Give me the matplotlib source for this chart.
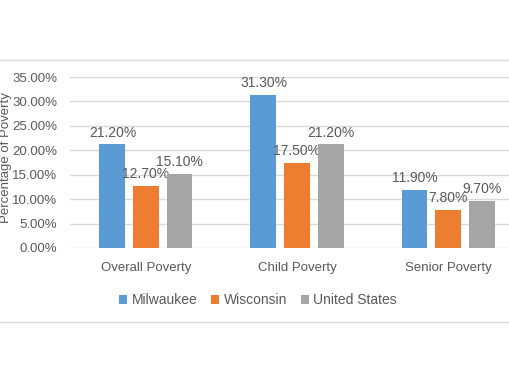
import matplotlib
matplotlib.use("Agg")
import matplotlib.pyplot as plt
from matplotlib.lines import Line2D
import numpy as np

plt.rcParams['font.family'] = ['Liberation Sans', 'DejaVu Sans']

# data
categories = ["Overall Poverty", "Child Poverty", "Senior Poverty"]
series_names = ["Milwaukee", "Wisconsin", "United States"]
milwaukee = [21.2, 31.3, 11.9]
wisconsin = [12.7, 17.5, 7.8]
united_states = [15.1, 21.2, 9.7]
y_ticks = [0, 5, 10, 15, 20, 25, 30, 35]

colors = ["#5B9BD5", "#ED7D31", "#A5A5A5"]
text_col = "#595959"
grid_col = "#D9D9D9"

W, H = 510, 382
fig = plt.figure(figsize=(W / 100, H / 100), dpi=100)
# plot area runs off the right edge like the cropped screenshot
ax = fig.add_axes([70 / W, 1 - 248 / H, 454 / W, 171 / H])

x = np.arange(len(categories))
width = 0.172
offset = 0.222
for i, (vals, name, c) in enumerate(zip([milwaukee, wisconsin, united_states], series_names, colors)):
    pos = x + (i - 1) * offset
    bars = ax.bar(pos, vals, width, color=c, label=name, zorder=3)
    for b, v in zip(bars, vals):
        ax.annotate(f"{v:.2f}%", (b.get_x() + b.get_width() / 2, v),
                    xytext=(0, 3.5), textcoords="offset points",
                    ha="center", va="bottom", fontsize=10, color=text_col)

ax.set_xlim(-0.503, 2.503)
ax.set_ylim(0, 35)
ax.set_yticks(y_ticks)
ax.set_yticklabels([f"{t:.2f}%" for t in y_ticks])
ax.set_xticks(x)
ax.set_xticklabels(categories)
ax.tick_params(axis="both", length=0, colors=text_col, labelsize=9.5)
ax.tick_params(axis="y", pad=9)
ax.tick_params(axis="x", pad=10)
ax.grid(axis="y", color=grid_col, linewidth=1, zorder=0)
for s in ax.spines.values():
    s.set_visible(False)

# y label hugs the left edge
fig.text(0.5 / W, 1 - 158 / H, "Percentage of Poverty", rotation=90,
         ha="left", va="center", fontsize=9.5, color=text_col)

fig.legend(loc="center", bbox_to_anchor=(258 / W, 1 - 300 / H), ncol=3,
           frameon=False, fontsize=10, labelcolor=text_col,
           handlelength=0.6, handleheight=0.6, handletextpad=0.3,
           columnspacing=1.0)

# chart frame lines
fig.add_artist(Line2D([0, 1], [1 - 60 / H, 1 - 60 / H], color=grid_col, linewidth=1))
fig.add_artist(Line2D([0, 1], [1 - 322 / H, 1 - 322 / H], color=grid_col, linewidth=1))

fig.savefig("out.png", dpi=100)
